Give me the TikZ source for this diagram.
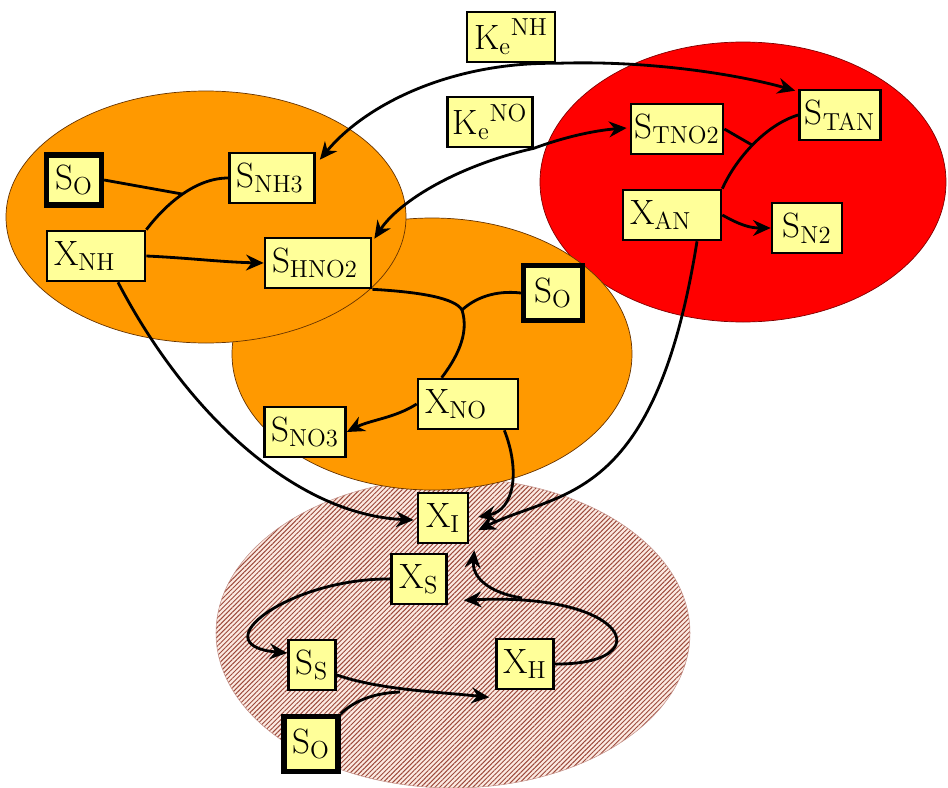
\documentclass[tikz,border=0pt]{standalone}
\usepackage{fontspec}
\usetikzlibrary{arrows.meta, calc, patterns.meta}
\definecolor{boxyellow}{HTML}{FFFF99}
\definecolor{nitorange}{HTML}{FF9900}
\definecolor{anared}{HTML}{FF0000}
\definecolor{hatchred}{HTML}{9C4A3C}
\definecolor{hatchbg}{HTML}{FCEAE2}

\begin{document}
\begin{tikzpicture}[x=0.02cm, y=-0.02cm,
  box/.style={draw, line width=1.5pt, fill=boxyellow, minimum height=1cm, inner sep=2pt, font=\rmfamily\fontsize{20}{24}\selectfont},
  lbox/.style={box, inner xsep=4pt, text width=#1, align=left},
  obox/.style={box, line width=3pt},
  flow/.style={line width=1.6pt, -{Stealth[length=10pt,width=9pt]}},
  twoway/.style={line width=1.6pt, {Stealth[length=10pt,width=9pt]}-{Stealth[length=10pt,width=9pt]}},
  link/.style={line width=1.6pt}]
\useasboundingbox (0,0) rectangle (948,788);
\path[preaction={fill=hatchbg}, pattern={Lines[angle=45,distance=1.9pt,line width=0.55pt]}, pattern color=hatchred, draw=hatchred!60, line width=0.3pt] (453,633) ellipse [x radius=237, y radius=155];
\path[fill=anared, draw=red!50!black, line width=0.4pt] (743,182) ellipse [x radius=203, y radius=140];
\path[fill=nitorange, draw=orange!40!black, line width=0.4pt] (432,354) ellipse [x radius=200, y radius=136];
\path[fill=nitorange, draw=orange!40!black, line width=0.4pt] (206,217) ellipse [x radius=200, y radius=126];
\node[obox, minimum width=1.1cm] (so1) at (74,180) {S\textsubscript{O}};
\node[lbox=1.42cm] (snh3) at (272,178) {S\textsubscript{NH3}};
\node[lbox=1.68cm] (xnh) at (96,256) {X\textsubscript{NH}};
\node[lbox=1.84cm] (shno2) at (318,263) {S\textsubscript{HNO2}};
\node[box, minimum width=1.76cm] (kenh) at (511,37) {K\textsubscript{e}\textsuperscript{NH}};
\node[box, minimum width=1.7cm] (keno) at (490,122) {K\textsubscript{e}\textsuperscript{NO}};
\node[box, minimum width=1.84cm] (stno2) at (677,129) {S\textsubscript{TNO2}};
\node[box, minimum width=1.62cm] (stan) at (840,115) {S\textsubscript{TAN}};
\node[lbox=1.68cm] (xan) at (672,215) {X\textsubscript{AN}};
\node[box, minimum width=1.4cm] (sn2) at (807,228) {S\textsubscript{N2}};
\node[obox, minimum width=1.18cm, minimum height=1.1cm] (so2) at (553,293) {S\textsubscript{O}};
\node[lbox=1.72cm] (xno) at (468,404) {X\textsubscript{NO}};
\node[box, minimum width=1.62cm] (sno3) at (305,432) {S\textsubscript{NO3}};
\node[box, minimum width=1cm] (xi) at (443,518) {X\textsubscript{I}};
\node[box, minimum width=1.1cm] (xs) at (419,579) {X\textsubscript{S}};
\node[box, minimum width=0.94cm] (ss) at (312,665) {S\textsubscript{S}};
\node[box, minimum width=1.14cm] (xh) at (525,664) {X\textsubscript{H}};
\node[obox, minimum width=1.08cm, minimum height=1.1cm] (so3) at (311,744) {S\textsubscript{O}};
\coordinate (j1) at (182,194);
\coordinate (j2) at (752,145);
\coordinate (j3) at (462,310);
\coordinate (j4) at (400,692);
\coordinate (m1) at (522,598);
\draw[link] (xnh.north east) .. controls (165,205) and (195,178) .. (snh3.west);
\draw[link] (so1.east) -- (j1);
\draw[flow] (xnh.east) .. controls (190,258) and (220,262) .. (shno2.west);
\draw[flow] ($(xnh.south)+(22,0)$) .. controls (190,420) and (300,515) .. ($(xi.west)+(-3,2)$);
\draw[twoway] ($(snh3.north east)+(4,8)$) .. controls (365,105) and (450,62) .. (kenh.south east) .. controls (650,60) and (740,75) .. ($(stan.north west)+(-3,2)$);
\draw[twoway] ($(shno2.north east)+(2,2)$) .. controls (400,200) and (460,165) .. (keno.south east) .. controls (570,135) and (600,130) .. ($(stno2.west)+(-3,-1)$);
\draw[link] (xan.north east) .. controls (735,160) and (765,125) .. (stan.west);
\draw[link] (stno2.east) -- (j2);
\draw[flow] (xan.east) .. controls (740,225) and (750,228) .. (sn2.west);
\draw[flow] ($(xan.south)+(25,0)$) .. controls (655,505) and (560,490) .. ($(xi.east)+(9,12)$);
\draw[link] (shno2.south east) .. controls (420,292) and (455,298) .. (j3) .. controls (470,335) and (455,360) .. ($(xno.north west)+(25,0)$);
\draw[link] (so2.west) .. controls (495,290) and (475,298) .. (j3);
\draw[flow] (xno.west) .. controls (395,418) and (370,420) .. (sno3.east);
\draw[flow] ($(xno.south east)+(-15,0)$) .. controls (520,470) and (515,510) .. ($(xi.east)+(9,-1)$);
\draw[flow] (xs.west) .. controls (290,578) and (200,645) .. ($(ss.west)+(0,-12)$);
\draw[flow] (xh.east) .. controls (660,665) and (630,592) .. ($(xs.south east)+(16,-5)$);
\draw[flow] (m1) .. controls (485,592) and (472,575) .. ($(xi.south east)+(5,6)$);
\draw[flow] ($(ss.east)+(0,10)$) .. controls (380,690) and (440,692) .. ($(xh.south west)+(-6,7)$);
\draw[link] (so3.north east) .. controls (355,700) and (375,693) .. (j4);
\end{tikzpicture}
\end{document}
